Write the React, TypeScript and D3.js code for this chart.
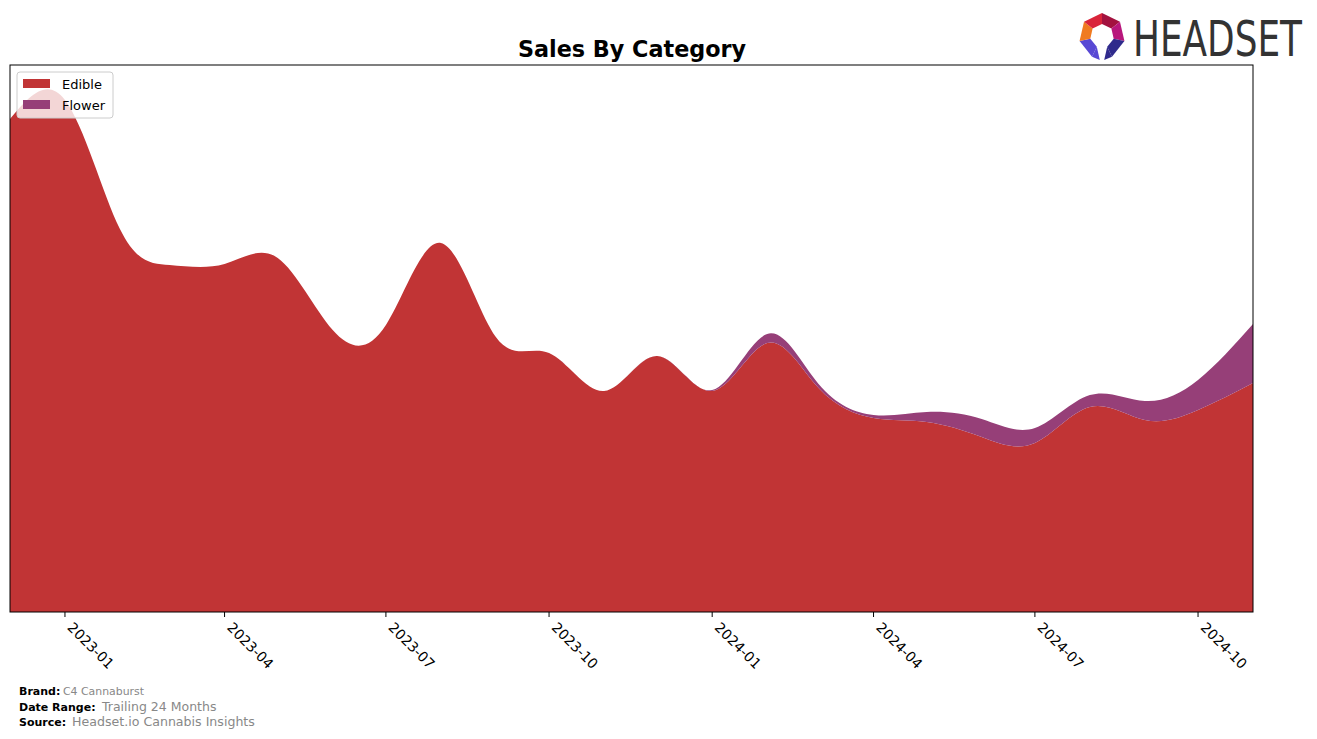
import React from "react";
import * as d3 from "d3";

const months = [
  "2022-12", "2023-01", "2023-02", "2023-03", "2023-04", "2023-05", "2023-06", "2023-07",
  "2023-08", "2023-09", "2023-10", "2023-11", "2023-12", "2024-01", "2024-02", "2024-03",
  "2024-04", "2024-05", "2024-06", "2024-07", "2024-08", "2024-09", "2024-10", "2024-11",
];
const edibleSales = [
  49300, 51200, 38300, 34700, 34800, 35400, 28200, 28700,
  36900, 27500, 25900, 22100, 25600, 22100, 26900, 22400,
  19400, 19000, 17500, 16900, 20500, 19200, 20200, 22900,
];
const flowerSales = [
  0, 0, 0, 0, 0, 0, 0, 0,
  0, 0, 0, 0, 0, 100, 900, 400,
  300, 1000, 1800, 1500, 1200, 1900, 3000, 5900,
];
const categories = ["Edible", "Flower"];
const colors = ["#c13435", "#963f78"];
const yMax = 54700;

const W = 1317, H = 739;
const L = 10, R = 1253, T = 65, B = 612;

export default function App() {
  const parse = d3.utcParse("%Y-%m");
  const rows = months.map((m, i) => ({ date: parse(m) as Date, Edible: edibleSales[i], Flower: flowerSales[i] }));
  const x = d3.scaleUtc().domain([rows[0].date, rows[rows.length - 1].date]).range([L, R]);
  const y = d3.scaleLinear().domain([0, yMax]).range([B, T]);
  const series = d3.stack<any>().keys(categories)(rows);
  const area = d3.area<any>()
    .x((d) => x(d.data.date))
    .y0((d) => y(d[0]))
    .y1((d) => y(d[1]))
    .curve(d3.curveNatural);
  const ticks = x.ticks(d3.utcMonth.every(3) as any);
  const fmt = d3.utcFormat("%Y-%m");

  // logo heptagon
  const cx = 1102, cy = 36, Ro = 23, Ri = 12;
  const vert = (r: number, k: number) => {
    const a = -Math.PI / 2 + (k * 2 * Math.PI) / 7;
    return [cx + r * Math.cos(a), cy + r * Math.sin(a)];
  };
  const segColors = ["#a3123f", "#b8177c", "#2f2a8c", null, "#5848d4", "#f07b21", "#d9243a"];
  const segs = segColors.map((c, k) => {
    if (!c) return null;
    const p = [vert(Ro, k), vert(Ro, k + 1), vert(Ri, k + 1), vert(Ri, k)];
    return <polygon key={k} points={p.map((q) => q.join(",")).join(" ")} fill={c} />;
  });
  const legL = [vert(Ro, 4), vert(Ri, 4), [vert(Ri, 4)[0] + 3, 60]];
  const legR = [vert(Ro, 3), vert(Ri, 3), [vert(Ri, 3)[0] - 3, 60]];

  return (
    <svg width={W} height={H} style={{ position: "absolute", left: 0, top: 0, background: "#fff" }}
      fontFamily="DejaVu Sans">
      <defs>
        <clipPath id="plotclip"><rect x={L} y={T} width={R - L} height={B - T} /></clipPath>
      </defs>
      <g clipPath="url(#plotclip)">
        {series.map((s, i) => (
          <path key={s.key} d={area(s as any) || ""} fill={colors[i]} />
        ))}
      </g>
      <rect x={L} y={T} width={R - L} height={B - T} fill="none" stroke="#000" strokeWidth={1} />
      {ticks.map((t) => (
        <g key={+t}>
          <line x1={x(t)} x2={x(t)} y1={B} y2={B + 5} stroke="#000" />
          <text transform={`translate(${x(t) + 9},${621}) rotate(45)`} fontSize={14} dominantBaseline="hanging" fill="#000">
            {fmt(t)}
          </text>
        </g>
      ))}
      <text x={632} y={57} textAnchor="middle" fontSize={22.3} fontWeight="bold">Sales By Category</text>

      <rect x={17} y={72} width={96} height={46} rx={3} fill="#fff" fillOpacity={0.8} stroke="#ccc" />
      {categories.map((c, i) => (
        <g key={c}>
          <rect x={23} y={79 + i * 21} width={27} height={9} fill={colors[i]} />
          <text x={62} y={89 + i * 21} fontSize={13}>{c}</text>
        </g>
      ))}

      {segs}
      <polygon points={legL.map((q) => q.join(",")).join(" ")} fill="#5848d4" />
      <polygon points={legR.map((q) => q.join(",")).join(" ")} fill="#2f2a8c" />
      <text x={1133} y={56} fontSize={50} fill="#333" fontFamily="DejaVu Sans Condensed, Liberation Sans Narrow, DejaVu Sans"
        textLength={169} lengthAdjust="spacingAndGlyphs">HEADSET</text>

      <text x={19} y={695} fontSize={11} fontWeight="bold">Brand:</text>
      <text x={63} y={695} fontSize={10.9} fill="#888">C4 Cannaburst</text>
      <text x={19} y={711} fontSize={11} fontWeight="bold">Date Range:</text>
      <text x={102} y={711} fontSize={12.5} fill="#888">Trailing 24 Months</text>
      <text x={19} y={726} fontSize={11} fontWeight="bold">Source:</text>
      <text x={72} y={726} fontSize={12.6} fill="#888">Headset.io Cannabis Insights</text>
    </svg>
  );
}
